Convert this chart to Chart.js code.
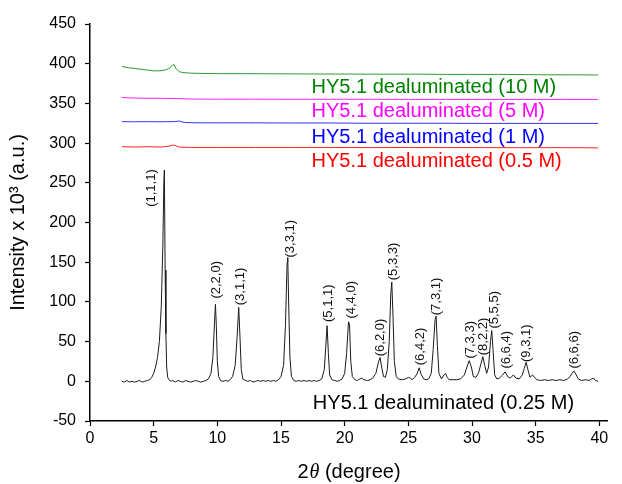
<!DOCTYPE html>
<html lang="en">
<head>
  <meta charset="UTF-8">
  <title>XRD HY5.1 dealuminated</title>
  <script src="https://cdn.jsdelivr.net/npm/chart.js"></script>
  <style>
    body {
      margin: 0;
      background-color: #fff;
    }
    canvas {
      display: block;
    }
  </style>
</head>
<body>
  <canvas id="graficoXRD" width="622" height="484"></canvas>

  <script>
    // 0.25 M sample (black trace)
    const theta025 = [2.5, 2.7, 2.9, 3.1, 3.3, 3.5, 3.7, 3.9, 4.1, 4.3, 4.5, 4.7, 4.85, 5.0, 5.15, 5.3, 5.45, 5.6, 5.72, 5.8, 5.84, 5.9, 5.96, 6.02, 6.1, 6.2, 6.35, 6.5, 6.7, 6.9, 7.1, 7.3, 7.5, 7.7, 7.9, 8.1, 8.3, 8.5, 8.7, 8.9, 9.1, 9.3, 9.5, 9.65, 9.78, 9.85, 9.92, 10.0, 10.1, 10.25, 10.45, 10.65, 10.85, 11.0, 11.2, 11.4, 11.55, 11.68, 11.78, 11.88, 12.0, 12.2, 12.4, 12.6, 12.8, 13.0, 13.2, 13.4, 13.6, 13.8, 14.0, 14.2, 14.4, 14.6, 14.8, 15.0, 15.2, 15.35, 15.48, 15.53, 15.6, 15.7, 15.82, 16.0, 16.2, 16.4, 16.6, 16.8, 17.0, 17.2, 17.4, 17.6, 17.8, 18.0, 18.2, 18.4, 18.52, 18.62, 18.72, 18.82, 19.0, 19.2, 19.4, 19.6, 19.8, 20.0, 20.15, 20.3, 20.38, 20.48, 20.6, 20.8, 21.0, 21.2, 21.35, 21.5, 21.8, 22.0, 22.2, 22.45, 22.65, 22.78, 22.9, 23.05, 23.2, 23.35, 23.5, 23.62, 23.7, 23.8, 23.9, 24.05, 24.2, 24.5, 24.8, 25.0, 25.15, 25.3, 25.5, 25.7, 25.85, 26.0, 26.2, 26.4, 26.6, 26.8, 26.95, 27.1, 27.18, 27.28, 27.4, 27.6, 27.8, 27.92, 28.05, 28.2, 28.5, 28.8, 29.1, 29.4, 29.6, 29.78, 29.95, 30.1, 30.3, 30.5, 30.7, 30.85, 31.0, 31.15, 31.3, 31.45, 31.55, 31.65, 31.78, 31.95, 32.15, 32.4, 32.6, 32.8, 33.0, 33.25, 33.45, 33.7, 33.95, 34.1, 34.25, 34.4, 34.55, 34.75, 34.9, 35.1, 35.4, 35.7, 36.0, 36.3, 36.6, 36.9, 37.2, 37.5, 37.7, 37.85, 38.0, 38.15, 38.35, 38.6, 38.9, 39.2, 39.4, 39.55, 39.7, 39.9];
    const int025 = [0, -1, 1, -1, 0, -1, 0, 1, -1, 0, 1, 2, 5, 10, 18, 30, 50, 95, 170, 250, 266, 140, 60, 18, 5, 2, 0, 1, -1, 1, 0, -1, 1, 0, -1, 0, 1, 0, -1, 0, 1, 3, 10, 30, 75, 97, 70, 25, 6, 1, 0, 1, 0, 2, 6, 20, 55, 93, 55, 15, 3, 1, 0, 1, -1, 0, 1, 0, 1, 0, 1, 0, 1, 0, 2, 6, 20, 70, 150, 156, 100, 30, 6, 1, 0, 1, 0, 1, 0, 1, 0, 1, 0, 1, 3, 15, 45, 70, 35, 8, 2, 1, 0, 1, 3, 10, 35, 75, 72, 25, 6, 2, 1, 3, 4, 2, 1, 2, 4, 10, 24, 30, 18, 6, 5, 15, 50, 110, 125, 80, 25, 6, 3, 2, 3, 5, 4, 2, 5, 10, 17, 9, 3, 2, 3, 10, 40, 78, 82, 45, 10, 3, 8, 10, 5, 2, 2, 2, 3, 8, 18, 26, 18, 6, 5, 10, 22, 31, 20, 10, 18, 50, 64, 40, 8, 3, 4, 8, 12, 6, 4, 8, 4, 3, 8, 16, 24, 14, 5, 8, 5, 2, 1, 2, 1, 2, 1, 2, 1, 3, 6, 10, 13, 9, 3, 1, 2, 1, 3, 4, 1, 0];

    // upper traces
    const theta05 = [2.5, 3.5, 4.5, 5.5, 6.2, 6.5, 6.7, 7.0, 8.0, 10, 13, 16, 19, 22, 25, 28, 31, 34, 37, 39.9];
    const int05 = [295.5, 295, 295.5, 295, 296, 297.5, 297, 295, 294.5, 294.5, 294.5, 294.5, 294.5, 294.3, 294.5, 294.3, 294.3, 294.2, 294.3, 294];
    const theta1 = [2.5, 3.5, 4.5, 5.5, 6.2, 6.6, 7.0, 7.4, 8.0, 10, 13, 16, 19, 22, 25, 28, 31, 34, 37, 39.9];
    const int1 = [327, 326.8, 327, 326.8, 327, 327, 327.8, 326, 325.6, 325.5, 325.5, 325.3, 325.3, 325, 325, 325, 324.8, 324.8, 324.8, 324.8];
    const theta5 = [2.5, 3.0, 4.0, 5.5, 7.0, 8.0, 10, 13, 16, 19, 22, 25, 28, 31, 34, 37, 39.9];
    const int5 = [357.5, 357, 356.5, 356.5, 356, 355.5, 355.3, 355.3, 355.2, 355.2, 355.2, 355, 355, 355, 355, 355, 355];
    const theta10 = [2.5, 3.0, 3.5, 4.0, 4.5, 5.0, 5.5, 5.9, 6.2, 6.45, 6.6, 6.75, 7.0, 7.3, 8.0, 10, 12, 14, 16, 18, 20, 22, 24, 26, 28, 30, 32, 34, 36, 38, 39.9];
    const int10 = [396.5, 395, 394, 393, 392, 391, 391, 392, 394, 397.5, 399, 394, 390, 388.8, 388, 387.5, 387.5, 387.3, 387.2, 387, 387, 386.8, 386.8, 386.8, 386.5, 386.5, 386.5, 386.3, 386, 386, 385.8];

    // sample names and where they are written
    const seriesNames = ['HY5.1 dealuminated (0.25 M)', 'HY5.1 dealuminated (0.5 M)', 'HY5.1 dealuminated (1 M)', 'HY5.1 dealuminated (5 M)', 'HY5.1 dealuminated (10 M)'];
    const seriesColors = ['#000000', '#ff0000', '#0000ff', '#ff00ff', '#008000'];
    const lineColors = ['#1a1a1a', '#ff2020', '#3030ff', '#ff20ff', '#2f9a2f'];
    const nameX = [17.5, 17.4, 17.4, 17.4, 17.4];
    const nameY = [-35.3, 269.7, 300.3, 332.7, 363];

    // reflection labels (hkl) and their anchor (centre x, bottom y)
    const hklLabels = ['(1,1,1)', '(2,2,0)', '(3,1,1)', '(3,3,1)', '(5,1,1)', '(4,4,0)', '(6,2,0)', '(5,3,3)', '(6,4,2)', '(7,3,1)', '(7,3,3)', '(8,2,2)', '(5,5,5)', '(6,6,4)', '(9,3,1)', '(6,6,6)'];
    const hklX = [4.84, 9.95, 11.78, 15.7, 18.72, 20.55, 22.8, 23.85, 25.92, 27.23, 29.85, 30.9, 31.76, 32.68, 34.3, 38.02];
    const hklY = [219.7, 104.2, 95.8, 155.9, 74.7, 79, 31.5, 127.3, 20.2, 83.2, 28.6, 32.8, 66.4, 16, 24.3, 16];

    const yTicks = { min: -50, max: 450, step: 50 };
    const xTickValues = [0, 5, 10, 15, 20, 25, 30, 35, 40];
    const xRange = { min: 0, max: 40.6 };

    const fuente = "Arial, 'Liberation Sans', sans-serif";

    function puntos(xs, ys) {
      return xs.map((x, i) => ({ x: x, y: ys[i] }));
    }

    const etiquetasPlugin = {
      id: 'etiquetas',
      afterDatasetsDraw(chart) {
        const ctx = chart.ctx;
        const sx = chart.scales.x;
        const sy = chart.scales.y;
        ctx.save();
        // sample names
        ctx.font = '20px ' + fuente;
        ctx.textAlign = 'left';
        ctx.textBaseline = 'alphabetic';
        seriesNames.forEach((n, i) => {
          ctx.fillStyle = seriesColors[i];
          ctx.fillText(n, sx.getPixelForValue(nameX[i]), sy.getPixelForValue(nameY[i]));
        });
        // hkl labels, rotated
        ctx.font = '13px ' + fuente;
        ctx.fillStyle = '#111';
        ctx.textBaseline = 'middle';
        hklLabels.forEach((t, i) => {
          ctx.save();
          ctx.translate(sx.getPixelForValue(hklX[i]), sy.getPixelForValue(hklY[i]));
          ctx.rotate(-Math.PI / 2);
          ctx.fillText(t, 0, 0);
          ctx.restore();
        });
        // x axis title with italic theta
        const cx = (chart.chartArea.left + chart.chartArea.right) / 2;
        const ty = 478;
        ctx.textBaseline = 'alphabetic';
        ctx.fillStyle = '#000';
        const p1 = '2', p2 = '\u03b8', p3 = ' (degree)';
        ctx.font = '20px ' + fuente;
        const w1 = ctx.measureText(p1).width;
        const w3 = ctx.measureText(p3).width;
        ctx.font = 'italic 20px "Liberation Serif", "Times New Roman", serif';
        const w2 = ctx.measureText(p2).width;
        let x0 = cx - (w1 + w2 + w3) / 2;
        ctx.font = '20px ' + fuente;
        ctx.fillText(p1, x0, ty);
        ctx.font = 'italic 20px "Liberation Serif", "Times New Roman", serif';
        ctx.fillText(p2, x0 + w1 + 1, ty);
        ctx.font = '20px ' + fuente;
        ctx.fillText(p3, x0 + w1 + w2 + 1, ty);
        ctx.restore();
      }
    };

    const ctxXRD = document.getElementById('graficoXRD').getContext('2d');
    const chartXRD = new Chart(ctxXRD, {
      type: 'scatter',
      data: {
        datasets: [
          { label: seriesNames[0], data: puntos(theta025, int025), borderColor: lineColors[0] },
          { label: seriesNames[1], data: puntos(theta05, int05), borderColor: lineColors[1] },
          { label: seriesNames[2], data: puntos(theta1, int1), borderColor: lineColors[2] },
          { label: seriesNames[3], data: puntos(theta5, int5), borderColor: lineColors[3] },
          { label: seriesNames[4], data: puntos(theta10, int10), borderColor: lineColors[4] }
        ].map(d => Object.assign(d, { showLine: true, borderWidth: 1, pointRadius: 0, tension: 0, fill: false }))
      },
      options: {
        responsive: false,
        animation: false,
        layout: { padding: { top: 24, right: 15, left: 0, bottom: 0 } },
        plugins: {
          legend: { display: false },
          tooltip: { enabled: false }
        },
        scales: {
          x: {
            type: 'linear',
            min: xRange.min,
            max: xRange.max,
            afterFit: s => { s.height = 63; },
            afterBuildTicks: s => { s.ticks = xTickValues.map(v => ({ value: v })); },
            ticks: { color: '#000', font: { family: fuente, size: 16 }, padding: 3, maxRotation: 0 },
            grid: { drawOnChartArea: false, tickLength: 5, color: '#000', tickWidth: 1.2 },
            border: { color: '#000', width: 1.5 }
          },
          y: {
            min: yTicks.min,
            max: yTicks.max,
            afterFit: s => { s.width = 90; },
            ticks: { stepSize: yTicks.step, color: '#000', font: { family: fuente, size: 16 }, padding: 9 },
            grid: { drawOnChartArea: false, tickLength: 5, color: '#000', tickWidth: 1.2 },
            border: { color: '#000', width: 1.5 },
            title: {
              display: true,
              text: 'Intensity x 10\u00b3 (a.u.)',
              color: '#000',
              font: { family: fuente, size: 20, weight: 'normal' },
              padding: { top: 6, bottom: 0 }
            }
          }
        }
      },
      plugins: [etiquetasPlugin]
    });
  </script>
</body>
</html>
